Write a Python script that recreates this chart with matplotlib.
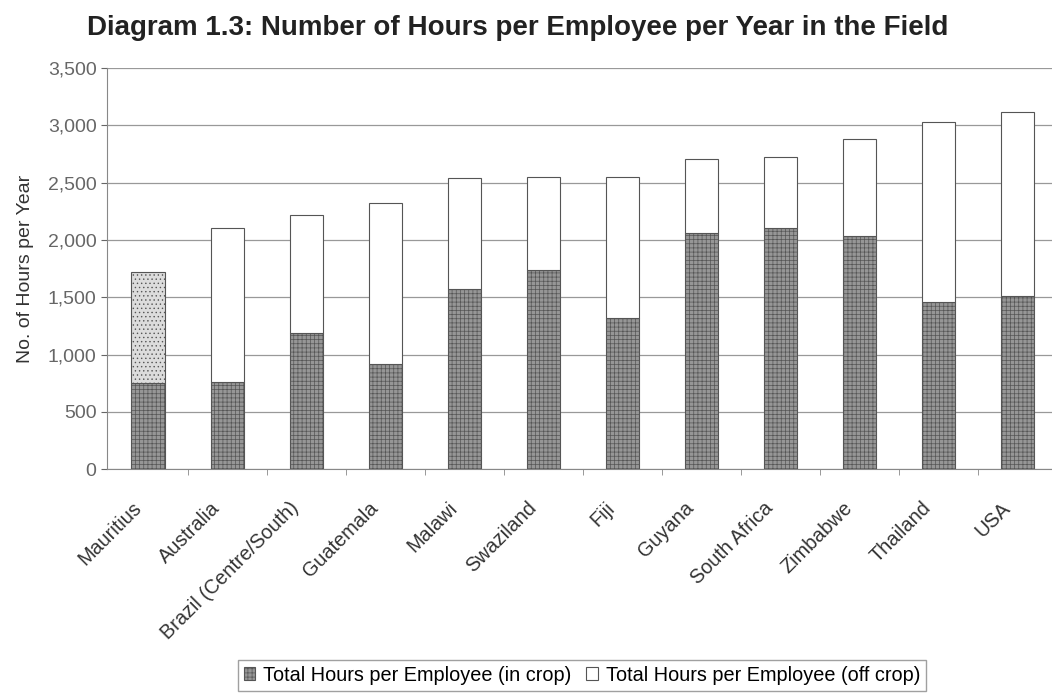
import matplotlib.pyplot as plt
from matplotlib.patches import Patch
from matplotlib.ticker import FixedLocator
from matplotlib.transforms import ScaledTranslation
import numpy as np

plt.rcParams['font.family'] = ['Liberation Sans', 'DejaVu Sans']
plt.rcParams['hatch.color'] = '#5a5a5a'
plt.rcParams['hatch.linewidth'] = 0.5

countries = ["Mauritius", "Australia", "Brazil (Centre/South)", "Guatemala", "Malawi",
             "Swaziland", "Fiji", "Guyana", "South Africa", "Zimbabwe", "Thailand", "USA"]
total_hours = [1720, 2100, 2220, 2320, 2540, 2550, 2550, 2710, 2720, 2880, 3030, 3120]
in_crop = [750, 760, 1190, 920, 1570, 1740, 1320, 2060, 2100, 2030, 1460, 1510]
off_crop = [t - i for t, i in zip(total_hours, in_crop)]


def main():
    fig = plt.figure(figsize=(10.52, 6.94), dpi=100)
    ax = fig.add_axes([107 / 1052, 0.324, 945 / 1052, 0.578])

    x = np.arange(len(countries))
    w = 0.42
    ax.bar(x, in_crop, w, color='#969696', edgecolor='#555555', linewidth=0.8,
           hatch='++++', zorder=3)
    off_colors = ['#dcdcdc'] + ['white'] * (len(countries) - 1)
    bars = ax.bar(x, off_crop, w, bottom=in_crop, color=off_colors, edgecolor='#555555',
                  linewidth=0.8, zorder=3)
    bars[0].set_hatch('....')

    ax.set_ylim(0, 3500)
    ax.set_xlim(-0.52, 11.44)
    ax.set_yticks(range(0, 3501, 500))
    ax.set_yticklabels([f"{v:,}" for v in range(0, 3501, 500)], fontsize=14, color='#333333')

    # category labels drawn as text below the axis, rotated 45 degrees
    ax.set_xticks(x)
    ax.set_xticklabels([])
    shift = ax.get_xaxis_transform() + ScaledTranslation(-0.10, -0.36, fig.dpi_scale_trans)
    for xi, name in zip(x, countries):
        ax.text(xi, 0, name, transform=shift, rotation=45, ha='right', va='center',
                rotation_mode='anchor', fontsize=14.3, color='#333333')
    ax.xaxis.set_minor_locator(FixedLocator(x[:-1] + 0.5))
    ax.tick_params(axis='x', which='major', length=0)
    ax.tick_params(axis='x', which='minor', length=4, color='#888888')
    ax.tick_params(axis='y', colors='#666666', length=4)
    ax.set_ylabel('No. of Hours per Year', fontsize=14, color='#333333', labelpad=10)
    ax.yaxis.grid(True, color='#999999', linewidth=0.9, zorder=0)
    ax.spines['top'].set_visible(False)
    ax.spines['right'].set_visible(False)
    for s in ax.spines.values():
        s.set_color('#888888')

    fig.suptitle('Diagram 1.3: Number of Hours per Employee per Year in the Field',
                 x=0.4925, y=0.978, fontsize=20, fontweight='bold', color='#222222')

    handles = [Patch(facecolor='#969696', edgecolor='#555555', hatch='++++', linewidth=0.8),
               Patch(facecolor='white', edgecolor='#555555', linewidth=0.8)]
    labels = ['Total Hours per Employee (in crop)', 'Total Hours per Employee (off crop)']
    fig.legend(handles, labels, loc='center', bbox_to_anchor=(0.553, 0.027), ncol=2,
               fontsize=14.3, frameon=True, fancybox=False, edgecolor='#888888',
               handlelength=0.6, handleheight=0.6, handletextpad=0.4, columnspacing=0.7,
               borderpad=0.3, borderaxespad=0)

    fig.savefig('out.png', dpi=100, facecolor='white')


if __name__ == "__main__":
    main()
